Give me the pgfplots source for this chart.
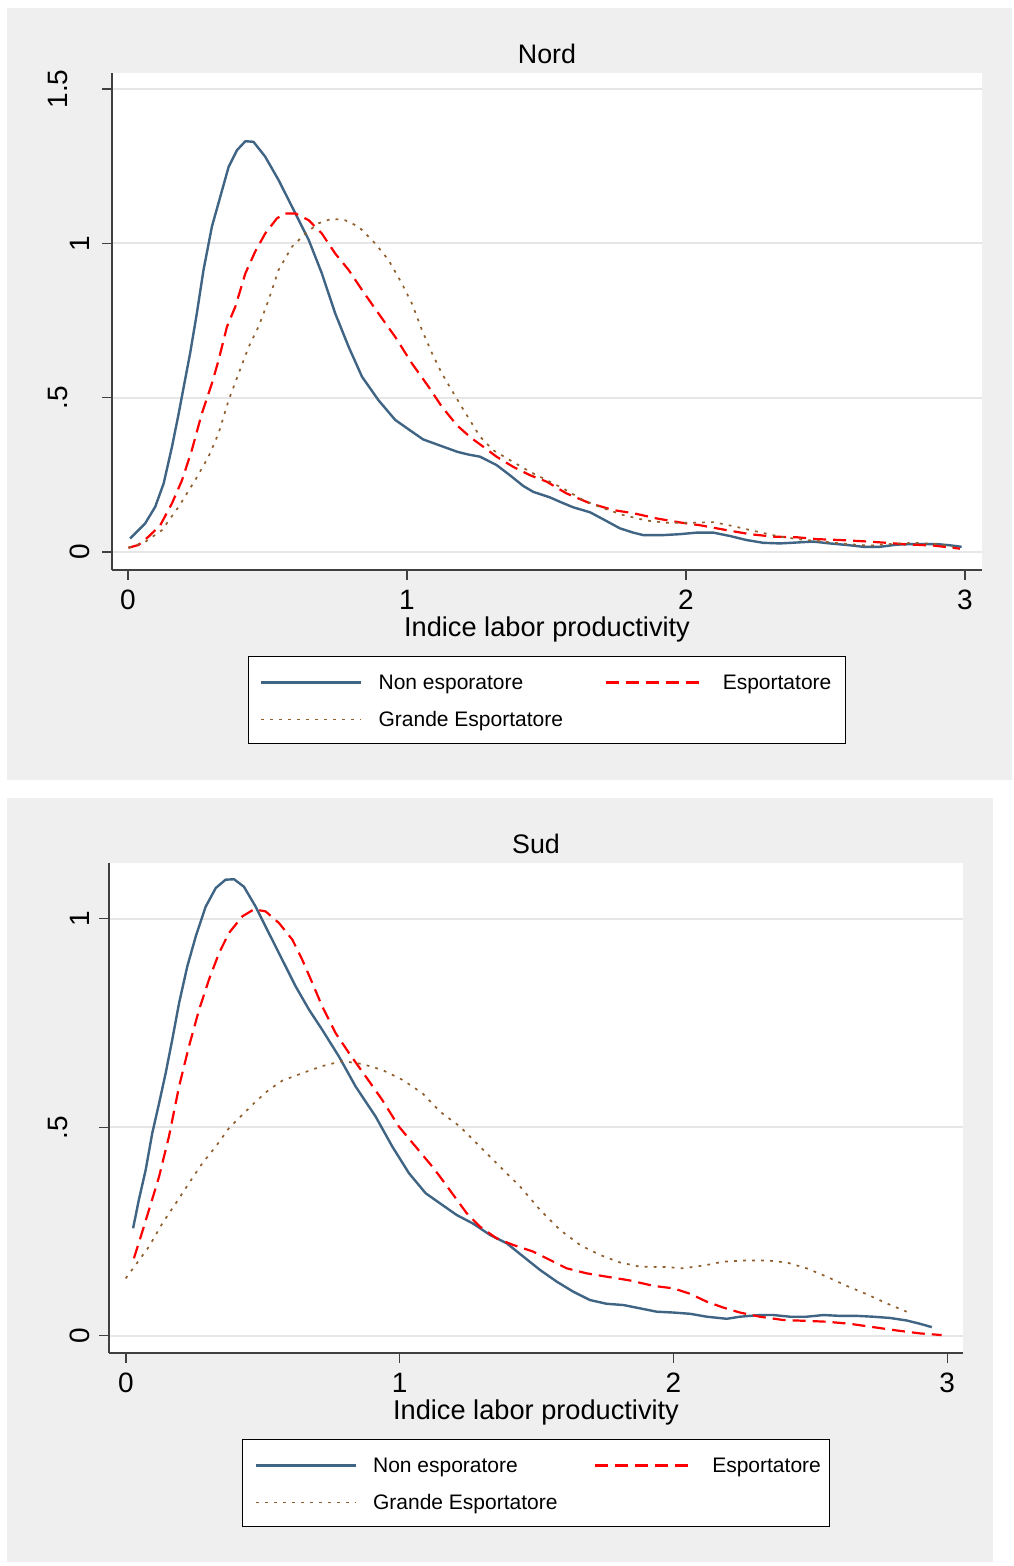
\documentclass[border=0pt]{standalone}
\usepackage{fontspec}
\setmainfont{Liberation Sans}
\usepackage{pgfplots}
\pgfplotsset{compat=1.18}
\definecolor{panel}{RGB}{239,239,239}
\definecolor{gridc}{RGB}{230,230,230}
\definecolor{nonexp}{RGB}{64,101,132}
\definecolor{expo}{RGB}{255,0,0}
\definecolor{grande}{RGB}{145,95,45}
\newcommand{\lent}[2]{\makebox[#1][l]{\hspace{8pt}\rule{0pt}{9pt}#2}}
\pgfplotsset{
  mystyle/.style={
    scale only axis, anchor=south west,
    axis background/.style={fill=white},
    axis x line*=bottom, axis y line*=left,
    axis line style={black!75, line width=0.6pt},
    tick style={black!75, line width=0.6pt},
    tick align=outside, major tick length=5pt,
    ymajorgrids, grid style={gridc, line width=1pt},
    xtick={0,1,2,3}, xticklabels={0,1,2,3},
    ticklabel style={font=\fontsize{14}{16}\selectfont},
    xticklabel style={anchor=north, inner sep=0pt},
    xticklabel shift=5pt,
    yticklabel style={rotate=90, anchor=south, inner sep=0pt},
    xlabel={Indice labor productivity},
    xlabel style={at={(axis description cs:0.5,0)}, anchor=north, yshift=-23pt, inner sep=0pt, font=\fontsize{13.6}{16}\selectfont},
    title style={at={(axis description cs:0.5,1)}, anchor=base, yshift=-1.5pt, inner sep=0pt, font=\fontsize{13.4}{16}\selectfont},
    legend columns=2,
    legend image code/.code={\draw[##1] (0pt,-0.5pt) -- (50pt,-0.5pt);},
    legend style={anchor=north, draw=black, line width=0.6pt, fill=white,
      inner xsep=6pt, inner ysep=7.25pt, row sep=8pt, column sep=0pt,
      font=\fontsize{10.5}{12}\selectfont, nodes={inner sep=0pt}},
  },
  nonexp/.style={color=nonexp, line width=1.2pt, solid, line join=round},
  expo/.style={color=expo, line width=1.1pt, dash pattern=on 6.5pt off 3.5pt, line join=round},
  grande/.style={color=grande, line width=0.85pt, dash pattern=on 1.4pt off 3.1pt, line join=round},
}
\begin{document}
\begin{tikzpicture}
\path[use as bounding box, fill=white] (0pt,0pt) rectangle (506.5pt,783pt);
\fill[panel] (3.5pt,393pt) rectangle (506pt,779pt);
\fill[panel] (3.5pt,2pt) rectangle (496.5pt,384pt);
% ---------------- Nord ----------------
\begin{axis}[mystyle,
  at={(56pt,498pt)}, width=435pt, height=248.5pt,
  xmin=-0.057, xmax=3.061, ymin=-0.058, ymax=1.552,
  ytick={0,0.5,1,1.5},
  yticklabels={0,\raisebox{11pt}{.5},1,\raisebox{11pt}{1.5}},
  yticklabel shift=6pt,
  title={Nord},
  legend style={at={(axis description cs:0.5,-0.173)}},
]
\addplot[nonexp] coordinates {(0.008,0.044) (0.062,0.093) (0.098,0.147) (0.128,0.222) (0.158,0.341) (0.182,0.449) (0.200,0.535) (0.223,0.644) (0.247,0.773) (0.271,0.914) (0.301,1.054) (0.331,1.151) (0.361,1.248) (0.391,1.302) (0.421,1.331) (0.450,1.329) (0.492,1.281) (0.540,1.205) (0.588,1.119) (0.648,1.011) (0.695,0.903) (0.743,0.773) (0.791,0.665) (0.839,0.568) (0.898,0.492) (0.958,0.428) (1.018,0.390) (1.058,0.365) (1.125,0.343) (1.18,0.325) (1.22,0.316) (1.262,0.309) (1.321,0.282) (1.369,0.249) (1.417,0.214) (1.453,0.195) (1.513,0.177) (1.548,0.163) (1.596,0.145) (1.656,0.129) (1.704,0.106) (1.763,0.077) (1.811,0.063) (1.847,0.055) (1.919,0.055) (1.978,0.058) (2.038,0.063) (2.098,0.063) (2.158,0.052) (2.217,0.039) (2.277,0.030) (2.337,0.028) (2.397,0.031) (2.456,0.034) (2.516,0.028) (2.576,0.023) (2.636,0.017) (2.695,0.017) (2.755,0.024) (2.815,0.026) (2.898,0.026) (2.946,0.022) (2.988,0.017)};
\addlegendentry{\lent{121pt}{Non esporatore}}
\addplot[expo] coordinates {(0.002,0.014) (0.038,0.023) (0.074,0.050) (0.116,0.087) (0.158,0.158) (0.194,0.233) (0.229,0.330) (0.265,0.449) (0.301,0.546) (0.325,0.622) (0.355,0.730) (0.385,0.795) (0.421,0.903) (0.456,0.973) (0.492,1.032) (0.534,1.081) (0.564,1.097) (0.600,1.097) (0.648,1.075) (0.695,1.032) (0.743,0.967) (0.791,0.914) (0.839,0.849) (0.898,0.773) (0.958,0.697) (1.018,0.611) (1.078,0.535) (1.125,0.471) (1.18,0.41) (1.23,0.37) (1.274,0.341) (1.321,0.309) (1.381,0.276) (1.441,0.249) (1.501,0.228) (1.572,0.190) (1.656,0.158) (1.740,0.136) (1.811,0.126) (1.895,0.109) (1.978,0.096) (2.050,0.087) (2.146,0.071) (2.229,0.058) (2.313,0.050) (2.397,0.048) (2.468,0.042) (2.552,0.039) (2.636,0.035) (2.719,0.030) (2.791,0.025) (2.887,0.021) (2.946,0.015) (2.982,0.011)};
\addlegendentry{\lent{63.5pt}{Esportatore}}
\addplot[grande] coordinates {(0.002,0.014) (0.062,0.033) (0.122,0.071) (0.182,0.147) (0.241,0.233) (0.289,0.309) (0.325,0.385) (0.361,0.492) (0.397,0.579) (0.433,0.665) (0.468,0.730) (0.504,0.816) (0.540,0.914) (0.588,0.989) (0.636,1.032) (0.683,1.065) (0.731,1.080) (0.779,1.075) (0.827,1.054) (0.886,1.000) (0.934,0.946) (0.982,0.870) (1.018,0.805) (1.054,0.719) (1.090,0.644) (1.125,0.579) (1.17,0.51) (1.21,0.45) (1.262,0.374) (1.309,0.330) (1.369,0.298) (1.441,0.260) (1.501,0.233) (1.560,0.206) (1.632,0.168) (1.704,0.142) (1.775,0.120) (1.859,0.102) (1.931,0.095) (2.014,0.095) (2.098,0.097) (2.170,0.084) (2.241,0.069) (2.337,0.050) (2.409,0.041) (2.492,0.034) (2.576,0.026) (2.659,0.021) (2.731,0.026) (2.815,0.030) (2.898,0.026) (2.958,0.017)};
\addlegendentry{\lent{121pt}{Grande Esportatore}}
\end{axis}
% ---------------- Sud ----------------
\begin{axis}[mystyle,
  at={(54.5pt,106.5pt)}, width=427pt, height=245pt,
  xmin=-0.062, xmax=3.058, ymin=-0.041, ymax=1.134,
  ytick={0,0.5,1},
  yticklabels={0,\raisebox{11pt}{.5},1},
  yticklabel shift=4.5pt,
  title={Sud},
  legend style={at={(axis description cs:0.5,-0.1755)}},
]
\addplot[nonexp] coordinates {(0.026,0.258) (0.047,0.326) (0.072,0.398) (0.096,0.486) (0.121,0.558) (0.145,0.630) (0.169,0.710) (0.194,0.798) (0.224,0.886) (0.255,0.958) (0.291,1.029) (0.328,1.074) (0.364,1.094) (0.395,1.095) (0.431,1.077) (0.474,1.029) (0.522,0.966) (0.571,0.902) (0.620,0.838) (0.669,0.782) (0.717,0.734) (0.778,0.670) (0.839,0.598) (0.912,0.526) (0.973,0.454) (1.034,0.390) (1.095,0.342) (1.147,0.318) (1.208,0.290) (1.269,0.269) (1.330,0.242) (1.391,0.222) (1.452,0.190) (1.513,0.158) (1.574,0.130) (1.634,0.106) (1.695,0.086) (1.756,0.077) (1.817,0.074) (1.878,0.066) (1.939,0.058) (2.000,0.056) (2.061,0.053) (2.122,0.046) (2.195,0.041) (2.243,0.046) (2.316,0.050) (2.365,0.050) (2.426,0.046) (2.487,0.046) (2.548,0.050) (2.609,0.048) (2.670,0.048) (2.730,0.046) (2.791,0.043) (2.852,0.037) (2.901,0.029) (2.944,0.021)};
\addlegendentry{\lent{118.5pt}{Non esporatore}}
\addplot[expo] coordinates {(0.029,0.186) (0.054,0.238) (0.084,0.302) (0.121,0.382) (0.157,0.478) (0.194,0.598) (0.230,0.694) (0.267,0.782) (0.303,0.854) (0.340,0.918) (0.376,0.966) (0.425,1.006) (0.468,1.023) (0.510,1.018) (0.559,0.990) (0.608,0.950) (0.644,0.902) (0.681,0.846) (0.717,0.790) (0.766,0.726) (0.815,0.678) (0.876,0.622) (0.936,0.566) (0.997,0.502) (1.058,0.454) (1.119,0.406) (1.147,0.382) (1.196,0.338) (1.245,0.294) (1.293,0.262) (1.354,0.234) (1.415,0.218) (1.488,0.202) (1.549,0.182) (1.610,0.162) (1.683,0.150) (1.756,0.142) (1.841,0.133) (1.927,0.120) (2.000,0.114) (2.061,0.101) (2.122,0.082) (2.182,0.068) (2.243,0.056) (2.316,0.046) (2.402,0.038) (2.487,0.036) (2.560,0.034) (2.645,0.029) (2.730,0.021) (2.816,0.013) (2.901,0.006) (2.980,0.002)};
\addlegendentry{\lent{60.5pt}{Esportatore}}
\addplot[grande] coordinates {(-0.001,0.138) (0.035,0.170) (0.084,0.214) (0.133,0.270) (0.182,0.318) (0.230,0.366) (0.279,0.414) (0.328,0.454) (0.376,0.498) (0.425,0.530) (0.474,0.562) (0.522,0.590) (0.571,0.612) (0.644,0.630) (0.717,0.647) (0.790,0.659) (0.863,0.652) (0.936,0.638) (1.010,0.614) (1.083,0.582) (1.147,0.538) (1.220,0.502) (1.293,0.454) (1.366,0.406) (1.440,0.358) (1.513,0.302) (1.586,0.254) (1.659,0.218) (1.732,0.194) (1.805,0.176) (1.878,0.166) (1.975,0.165) (2.036,0.162) (2.122,0.170) (2.182,0.178) (2.268,0.181) (2.341,0.181) (2.414,0.176) (2.487,0.162) (2.560,0.142) (2.633,0.120) (2.706,0.100) (2.779,0.078) (2.852,0.058)};
\addlegendentry{\lent{118.5pt}{Grande Esportatore}}
\end{axis}
\end{tikzpicture}
\end{document}
